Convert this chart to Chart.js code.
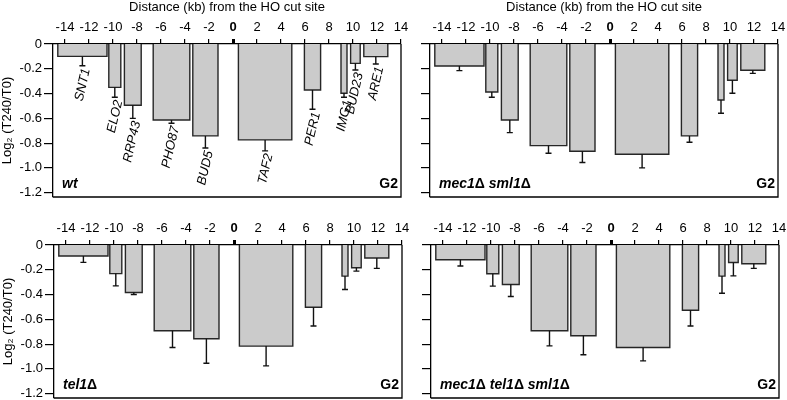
<!DOCTYPE html>
<html lang="en">
<head>
  <meta charset="UTF-8">
  <title>Log2 (T240/T0) around the HO cut site</title>
  <script src="https://cdn.jsdelivr.net/npm/chart.js@4.4.0/dist/chart.umd.min.js"></script>
  <style>
    html, body { margin: 0; padding: 0; background: #fff; overflow: hidden; }
    .panel { position: absolute; width: 410px; height: 200px; }
  </style>
</head>
<body>
  <div class="panel" style="left:0;top:0"><canvas id="wtChart" width="410" height="200"></canvas></div>
  <div class="panel" style="left:377px;top:0"><canvas id="mecSmlChart" width="410" height="200"></canvas></div>
  <div class="panel" style="left:1px;top:201px"><canvas id="telChart" width="410" height="200"></canvas></div>
  <div class="panel" style="left:378px;top:201px"><canvas id="mecTelSmlChart" width="410" height="200"></canvas></div>

  <script>
    // genes around the HO cut site (kb)
    const genes = ['SNT1', 'ELO2', 'RRP43', 'PHO87', 'BUD5', 'TAF2', 'PER1', 'IMG1', 'BUD23', 'ARE1'];
    const geneStart = [-14.6, -10.35, -9.05, -6.65, -3.35, 0.45, 5.95, 9.0, 9.8, 10.9];
    const geneEnd = [-10.5, -9.35, -7.65, -3.6, -1.25, 4.9, 7.3, 9.5, 10.6, 12.9];

    const xTickVals = [-14, -12, -10, -8, -6, -4, -2, 0, 2, 4, 6, 8, 10, 12, 14];
    const yTickVals = [0, -0.2, -0.4, -0.6, -0.8, -1.0, -1.2];

    // log2 (T240/T0) and error bar sizes per strain
    const wtValues = [-0.10, -0.35, -0.495, -0.613, -0.742, -0.774, -0.371, -0.398, -0.156, -0.102];
    const wtErrors = [0.075, 0.08, 0.105, 0.027, 0.098, 0.089, 0.156, 0.032, 0.054, 0.059];

    const mecSmlValues = [-0.177, -0.387, -0.613, -0.82, -0.866, -0.89, -0.742, -0.452, -0.293, -0.212];
    const mecSmlErrors = [0.038, 0.043, 0.102, 0.062, 0.091, 0.11, 0.051, 0.107, 0.105, 0.025];

    const telValues = [-0.089, -0.231, -0.383, -0.692, -0.757, -0.816, -0.503, -0.251, -0.184, -0.105];
    const telErrors = [0.051, 0.099, 0.016, 0.135, 0.197, 0.16, 0.151, 0.108, 0.027, 0.084];

    const mecTelSmlValues = [-0.119, -0.232, -0.319, -0.692, -0.732, -0.827, -0.527, -0.251, -0.141, -0.151];
    const mecTelSmlErrors = [0.051, 0.1, 0.097, 0.122, 0.154, 0.108, 0.127, 0.138, 0.108, 0.038];

    const FONT = 'Arial, "Liberation Sans", Helvetica, sans-serif';
    Chart.defaults.font.family = FONT;
    Chart.defaults.color = '#000';

    // right and bottom edges of the box
    const framePlugin = {
      id: 'frame',
      afterDraw(chart) {
        const { ctx, chartArea: a } = chart;
        ctx.save();
        ctx.strokeStyle = '#000';
        ctx.lineWidth = 1.3;
        ctx.beginPath();
        ctx.moveTo(a.right, a.top);
        ctx.lineTo(a.right, a.bottom);
        ctx.lineTo(a.left, a.bottom);
        ctx.stroke();
        ctx.restore();
      }
    };

    // downward error bars at the middle of each gene
    const errorPlugin = {
      id: 'errorBars',
      afterDatasetsDraw(chart, args, opts) {
        const { ctx, scales: { x, y } } = chart;
        ctx.save();
        ctx.strokeStyle = '#111';
        ctx.lineWidth = 1.4;
        genes.forEach((g, i) => {
          const px = x.getPixelForValue((geneStart[i] + geneEnd[i]) / 2);
          const y1 = y.getPixelForValue(opts.values[i]);
          const y2 = y.getPixelForValue(opts.values[i] - opts.errors[i]);
          ctx.beginPath();
          ctx.moveTo(px, y1);
          ctx.lineTo(px, y2);
          ctx.moveTo(px - 3, y2);
          ctx.lineTo(px + 3, y2);
          ctx.stroke();
        });
        ctx.restore();
      }
    };

    // strain name bottom left, G2 bottom right, gene names (wt only)
    const labelPlugin = {
      id: 'panelLabels',
      afterDraw(chart, args, opts) {
        const { ctx, chartArea: a, scales: { x, y } } = chart;
        ctx.save();
        ctx.fillStyle = '#000';
        ctx.textBaseline = 'alphabetic';
        let cx = a.left + 9;
        const base = a.bottom - 9;
        opts.name.forEach(part => {
          ctx.font = part.delta ? 'bold 14px ' + FONT : 'italic bold 14px ' + FONT;
          ctx.textAlign = 'left';
          ctx.fillText(part.text, cx, base);
          cx += ctx.measureText(part.text).width;
        });
        ctx.font = 'bold 14px ' + FONT;
        ctx.textAlign = 'right';
        ctx.fillText('G2', a.right - 3, base);

        if (opts.geneLabels) {
          ctx.font = 'italic 13px ' + FONT;
          ctx.textAlign = 'right';
          ctx.textBaseline = 'middle';
          genes.forEach((g, i) => {
            const px = x.getPixelForValue((geneStart[i] + geneEnd[i]) / 2);
            const py = y.getPixelForValue(opts.values[i] - opts.errors[i]);
            ctx.save();
            ctx.translate(px + 4, py + 3);
            ctx.rotate(-77 * Math.PI / 180);
            ctx.fillText(g, 0, 0);
            ctx.restore();
          });
        }
        ctx.restore();
      }
    };

    function noPad(s) {
      s.paddingLeft = 0;
      s.paddingRight = 0;
      s.paddingTop = 0;
      s.paddingBottom = 0;
    }

    function makePanel(id, values, errors, name, showTop, showY, geneLabels) {
      const datasets = genes.map((g, i) => ({
        label: g,
        data: [
          { x: geneStart[i], y: 0 },
          { x: geneStart[i], y: values[i] },
          { x: geneEnd[i], y: values[i] },
          { x: geneEnd[i], y: 0 }
        ],
        borderColor: '#262626',
        borderWidth: 1.4,
        backgroundColor: '#cbcbcb',
        fill: 'origin',
        pointRadius: 0,
        tension: 0
      }));

      return new Chart(document.getElementById(id), {
        type: 'line',
        data: { datasets },
        options: {
          responsive: false,
          animation: false,
          layout: { padding: { left: 0, right: 9, top: 0, bottom: 3 } },
          plugins: {
            legend: { display: false },
            tooltip: { enabled: false },
            errorBars: { values, errors },
            panelLabels: { name, geneLabels, values, errors }
          },
          scales: {
            x: {
              type: 'linear',
              position: 'top',
              min: -15,
              max: 14,
              afterBuildTicks: s => { s.ticks = xTickVals.map(v => ({ value: v })); },
              afterFit: s => { s.height = 44; noPad(s); },
              ticks: {
                autoSkip: false,
                maxRotation: 0,
                padding: 4,
                color: '#000',
                font: c => ({ size: 13, weight: c.tick && c.tick.value === 0 ? 'bold' : 'normal' }),
                callback: v => String(v)
              },
              grid: {
                drawOnChartArea: false,
                tickLength: 5,
                color: '#000',
                lineWidth: c => (c.tick && c.tick.value === 0 ? 3 : 1.2)
              },
              border: { display: true, color: '#000', width: 1.3 },
              title: {
                display: showTop,
                text: 'Distance (kb) from the HO cut site',
                color: '#000',
                font: { size: 13 },
                padding: { top: 0, bottom: 0 }
              }
            },
            y: {
              min: -1.235,
              max: 0,
              afterBuildTicks: s => { s.ticks = yTickVals.map(v => ({ value: v })); },
              afterFit: s => { s.width = 53; noPad(s); },
              ticks: {
                display: showY,
                padding: 2,
                color: '#000',
                font: { size: 13 },
                callback: v => (v === 0 ? '0' : v.toFixed(1))
              },
              grid: { drawOnChartArea: false, tickLength: 9, color: '#000', lineWidth: 1.2 },
              border: { display: true, color: '#000', width: 1.3 },
              title: {
                display: showY,
                text: 'Log\u2082 (T240/T0)',
                color: '#000',
                font: { size: 13 },
                padding: { top: 0, bottom: 0 }
              }
            }
          }
        },
        plugins: [framePlugin, errorPlugin, labelPlugin]
      });
    }

    makePanel('wtChart', wtValues, wtErrors, [{ text: 'wt' }], true, true, true);
    makePanel('mecSmlChart', mecSmlValues, mecSmlErrors,
      [{ text: 'mec1' }, { text: '\u0394', delta: true }, { text: ' sml1' }, { text: '\u0394', delta: true }],
      true, false, false);
    makePanel('telChart', telValues, telErrors,
      [{ text: 'tel1' }, { text: '\u0394', delta: true }], false, true, false);
    makePanel('mecTelSmlChart', mecTelSmlValues, mecTelSmlErrors,
      [{ text: 'mec1' }, { text: '\u0394', delta: true }, { text: ' tel1' }, { text: '\u0394', delta: true },
       { text: ' sml1' }, { text: '\u0394', delta: true }],
      false, false, false);
  </script>
</body>
</html>
